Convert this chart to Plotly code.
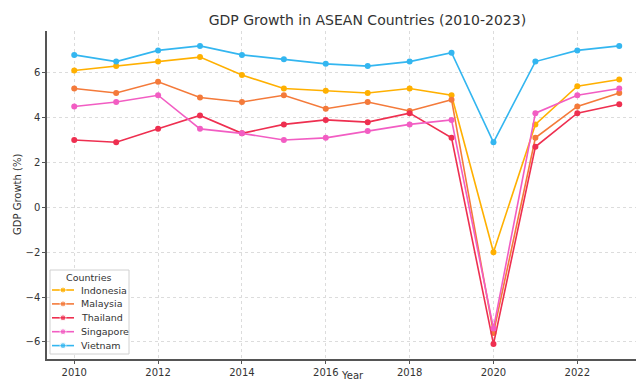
import plotly.graph_objects as go

years = list(range(2010, 2024))
countries = ["Indonesia", "Malaysia", "Thailand", "Singapore", "Vietnam"]
indonesia = [6.1, 6.3, 6.5, 6.7, 5.9, 5.3, 5.2, 5.1, 5.3, 5.0, -2.0, 3.7, 5.4, 5.7]
malaysia = [5.3, 5.1, 5.6, 4.9, 4.7, 5.0, 4.4, 4.7, 4.3, 4.8, -5.6, 3.1, 4.5, 5.1]
thailand = [3.0, 2.9, 3.5, 4.1, 3.3, 3.7, 3.9, 3.8, 4.2, 3.1, -6.1, 2.7, 4.2, 4.6]
singapore = [4.5, 4.7, 5.0, 3.5, 3.3, 3.0, 3.1, 3.4, 3.7, 3.9, -5.4, 4.2, 5.0, 5.3]
vietnam = [6.8, 6.5, 7.0, 7.2, 6.8, 6.6, 6.4, 6.3, 6.5, 6.9, 2.9, 6.5, 7.0, 7.2]
x_ticks = [2010, 2012, 2014, 2016, 2018, 2020, 2022]
y_ticks = [-6, -4, -2, 0, 2, 4, 6]

series = [indonesia, malaysia, thailand, singapore, vietnam]
colors = ["#FFB000", "#F47A3A", "#EE2F50", "#F25DC3", "#33B6F0"]

W, H = 636, 382
L, R, T, B = 47, 0, 31, 23
PW, PH = W - L - R, H - T - B
XR = [2009.35, 2023.4]
YR = [-6.765, 7.865]


def px_x(p):
    return (p - L) / PW


def px_y(p):
    return (H - B - p) / PH


fig = go.Figure()
for name, vals, col in zip(countries, series, colors):
    fig.add_trace(go.Scatter(
        x=years, y=vals, name=name, mode="lines+markers",
        line=dict(color=col, width=1.6),
        marker=dict(color=col, size=6),
        showlegend=False,
    ))

# compact legend drawn in a small inset axes
for i, (name, col) in enumerate(zip(countries, colors)):
    fig.add_trace(go.Scatter(
        x=[0, 0.5, 1], y=[i, i, i], mode="lines+markers",
        line=dict(color=col, width=1.6),
        marker=dict(color=col, size=[0, 6, 0]),
        xaxis="x2", yaxis="y2", showlegend=False, hoverinfo="skip",
    ))

entry_y0, entry_dy = 290, 13.9
annotations = [
    dict(text="Countries", x=px_x(89), y=px_y(277), xref="paper", yref="paper",
         xanchor="center", yanchor="middle", showarrow=False,
         font=dict(size=9.5, color="#333333")),
    dict(text="GDP Growth (%)", x=px_x(17), y=px_y(195), xref="paper", yref="paper",
         xanchor="center", yanchor="middle", textangle=-90, showarrow=False,
         font=dict(size=10, color="#333333")),
    dict(text="Year", x=px_x(352), y=px_y(375), xref="paper", yref="paper",
         xanchor="center", yanchor="middle", showarrow=False,
         font=dict(size=10, color="#333333")),
]
for i, name in enumerate(countries):
    annotations.append(dict(
        text=name, x=px_x(79), y=px_y(entry_y0 + entry_dy * i),
        xref="paper", yref="paper", xanchor="left", yanchor="middle",
        showarrow=False, font=dict(size=9.5, color="#333333")))


def dx(p):
    return XR[0] + px_x(p) * (XR[1] - XR[0])


def dy(p):
    return YR[0] + px_y(p) * (YR[1] - YR[0])


axis_style = dict(
    showline=True, linecolor="#555555", linewidth=1.5,
    ticks="outside", ticklen=3, tickcolor="#555555",
    showgrid=True, gridcolor="#dcdcdc", griddash="dot", gridwidth=1,
    zeroline=False, automargin=False,
)

fig.update_layout(
    width=W, height=H,
    margin=dict(l=L, r=R, t=T, b=B),
    paper_bgcolor="white", plot_bgcolor="white",
    font=dict(family="DejaVu Sans", size=10, color="#333333"),
    title=dict(text="GDP Growth in ASEAN Countries (2010-2023)",
               x=346 / W, xanchor="center", xref="paper",
               y=1 - 20 / H, yanchor="middle", yref="container",
               font=dict(family="DejaVu Sans", size=14, color="#333333")),
    showlegend=False,
    hovermode=False,
    annotations=annotations,
    shapes=[dict(type="rect", xref="x", yref="y",
                 x0=dx(50), x1=dx(129), y0=dy(354), y1=dy(270),
                 line=dict(color="#d0d0d0", width=1),
                 fillcolor="white", layer="between")],
    xaxis=dict(range=XR, tickvals=x_ticks, **axis_style),
    yaxis=dict(range=YR, tickvals=y_ticks, **axis_style),
    xaxis2=dict(domain=[px_x(52), px_x(74)], range=[0, 1], visible=False,
                anchor="y2", fixedrange=True),
    yaxis2=dict(domain=[px_y(352), px_y(284)],
                range=[(352 - entry_y0) / entry_dy, (284 - entry_y0) / entry_dy],
                visible=False, anchor="x2", fixedrange=True),
)

fig.write_html(
    "out.html",
    config={"displayModeBar": False},
    post_script="document.body.style.margin='0';document.body.style.padding='0';"
                "document.body.style.overflow='hidden';",
)
